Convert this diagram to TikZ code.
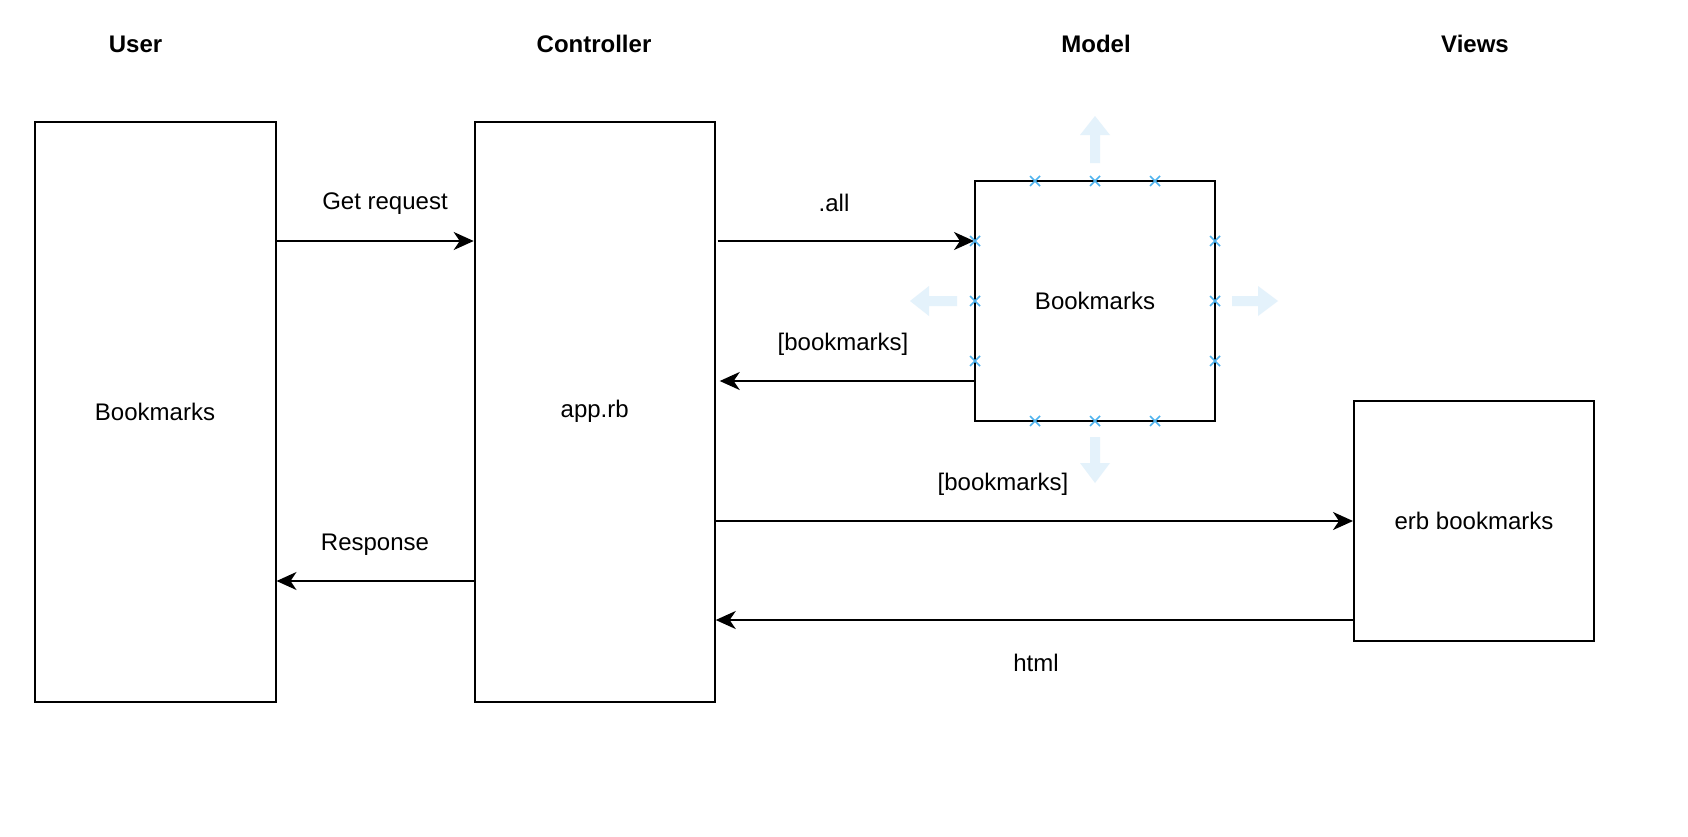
\documentclass[tikz,border=0pt]{standalone}
\usepackage{fontspec}
\setmainfont{Liberation Sans}
\usetikzlibrary{arrows.meta}
\definecolor{hoverblue}{HTML}{E4F2FB}
\definecolor{xblue}{HTML}{4FB3EE}
\tikzset{
  box/.style={draw=black, line width=2pt, fill=white, inner sep=0pt, font=\fontsize{24}{28}\selectfont},
  head/.style={font=\fontsize{24}{28}\selectfont\bfseries},
  lbl/.style={font=\fontsize{24}{28}\selectfont},
  arr/.style={line width=2pt, -{Stealth[length=20pt, width=18pt, inset=6pt]}},
  hov/.style={fill=hoverblue, draw=none},
  xm/.style={draw=xblue, line width=1.6pt},
}
\newcommand{\xmark}[2]{\draw[xm] ({#1-5},{#2-5}) -- ({#1+5},{#2+5}) ({#1-5},{#2+5}) -- ({#1+5},{#2-5});}
\begin{document}
\begin{tikzpicture}[x=1pt, y=-1pt]
\useasboundingbox[fill=white] (0,0) rectangle (1688,836);

% headers
\node[head] (hUser) at (135.6,44) {User};
\node[head] (hCtrl) at (594,44) {Controller};
\node[head] (hModel) at (1096,44) {Model};
\node[head] (hViews) at (1475,44) {Views};

% hover arrows (light blue)
\fill[hov] (1090,163) -- (1090,135) -- (1080,135) -- (1095,116) -- (1110,135) -- (1100,135) -- (1100,163) -- cycle;
\fill[hov] (1090,437) -- (1090,463) -- (1080,463) -- (1095,483) -- (1110,463) -- (1100,463) -- (1100,437) -- cycle;
\fill[hov] (957,296) -- (929,296) -- (929,286) -- (910,301) -- (929,316) -- (929,306) -- (957,306) -- cycle;
\fill[hov] (1232,296) -- (1258,296) -- (1258,286) -- (1278,301) -- (1258,316) -- (1258,306) -- (1232,306) -- cycle;

% boxes
\node[box, minimum width=241pt, minimum height=580pt] (user) at (155,411.5) {Bookmarks};
\node[box, minimum width=240pt, minimum height=580pt] (ctrl) at (594.7,411.5) {app.rb};
\node[box, minimum width=240pt, minimum height=240pt] (model) at (1095,301) {\raisebox{-1pt}{Bookmarks}};
\node[box, minimum width=240pt, minimum height=240pt] (views) at (1474,520.5) {\raisebox{-1pt}{erb bookmarks}};

% connectors
\draw[arr] (user.east |- 0,241) -- (ctrl.west |- 0,241);
\draw[arr] ([xshift=2pt]ctrl.east |- 0,241) -- (model.west |- 0,241);
\draw[arr] (model.west |- 0,381) -- ([xshift=4pt]ctrl.east |- 0,381);
\draw[arr] (ctrl.east |- 0,521) -- (views.west |- 0,521);
\draw[arr] (views.west |- 0,620) -- (ctrl.east |- 0,620);
\draw[arr] (ctrl.west |- 0,581) -- (user.east |- 0,581);

% connector labels
\node[lbl] (lGet) at (385,204) {Get request};
\node[lbl] (lAll) at (834,203) {.all};
\node[lbl] (lBk1) at (843,344) {[bookmarks]};
\node[lbl] (lBk2) at (1003,484) {[bookmarks]};
\node[lbl] (lResp) at (375,545) {Response};
\node[lbl] (lHtml) at (1036,663) {html};

% connection-point marks on model
\foreach \p in {1035,1095,1155}{\xmark{\p}{181}\xmark{\p}{421}}
\foreach \q in {241,301,361}{\xmark{975}{\q}\xmark{1215}{\q}}
\end{tikzpicture}
\end{document}
